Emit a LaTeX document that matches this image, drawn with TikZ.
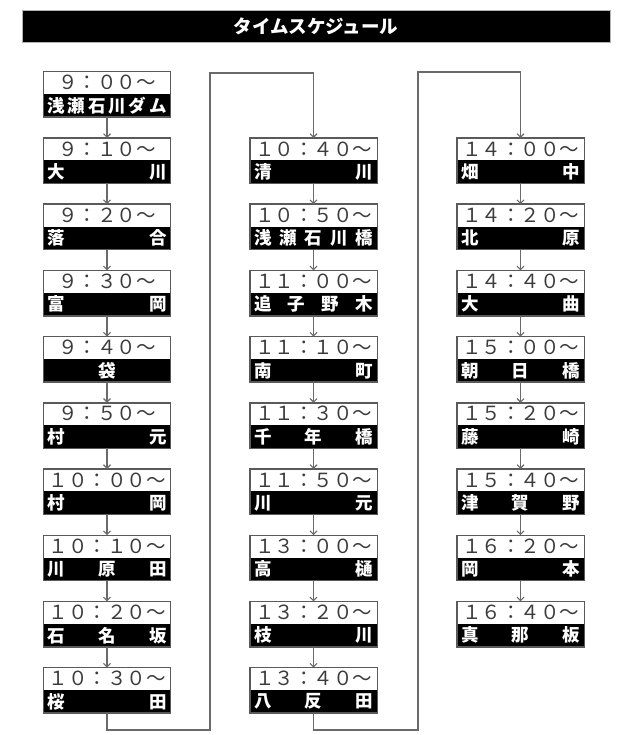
\documentclass[tikz,border=0pt]{standalone}
\usepackage{fontspec}
\newfontfamily\jp{Noto Sans CJK JP}
\usetikzlibrary{arrows.meta,calc}
\definecolor{framegray}{HTML}{5A5A5A}
\definecolor{linegray}{HTML}{6A6A6A}
\definecolor{timegray}{HTML}{3C3C3C}
\tikzset{
  boxnode/.style={minimum width=127pt,minimum height=45pt,inner sep=0pt,fill=white},
  boxline/.style={draw=framegray,line width=1.4pt},
  timetext/.style={font=\jp\fontsize{19.5}{21}\selectfont,text=timegray,inner sep=0pt},
  nametext/.style={font=\jp\bfseries\fontsize{17.5}{19}\selectfont,text=white,inner sep=0pt},
  smallarrow/.style={draw=linegray,line width=1.1pt,-{Straight Barb[length=3.5pt,width=7pt,line width=1.1pt]}},
  conn/.style={draw=linegray,line width=1.6pt,-{Straight Barb[length=3.5pt,width=7pt,line width=1.1pt]}},
}
\newcommand\schedbox[5]{%
  \node[boxnode] (#1) at (#2,#3) {};
  \fill[black] ([yshift=23pt]#1.south west) rectangle (#1.south east);
  \draw[boxline] (#1.south west) rectangle (#1.north east);
  \node[timetext] (#1t) at ([yshift=-11pt]#1.north) {#4};
  \node[nametext] (#1n) at ([yshift=11.5pt]#1.south) {\makebox[119pt]{#5}};
}
\begin{document}
\begin{tikzpicture}[x=1pt,y=-1pt]
\useasboundingbox[fill=white] (0,0) rectangle (618,735);
% title
\node[fill=black,draw=gray!60,line width=0.8pt,minimum width=588pt,minimum height=32pt,inner sep=0pt,
  font=\jp\bfseries\fontsize{18.5}{20}\selectfont,text=white] (title) at (316,26.5) {タイムスケジュール};
% column 1
\schedbox{a0}{107}{94.5}{９：００～}{浅\hfill 瀬\hfill 石\hfill 川\hfill ダ\hfill ム}
\schedbox{a1}{107}{160.7}{９：１０～}{大\hfill 川}
\schedbox{a2}{107}{226.9}{９：２０～}{落\hfill 合}
\schedbox{a3}{107}{293.1}{９：３０～}{富\hfill 岡}
\schedbox{a4}{107}{359.3}{９：４０～}{\hfill 袋\hfill}
\schedbox{a5}{107}{425.5}{９：５０～}{村\hfill 元}
\schedbox{a6}{107}{491.7}{１０：００～}{村\hfill 岡}
\schedbox{a7}{107}{557.9}{１０：１０～}{川\hfill 原\hfill 田}
\schedbox{a8}{107}{624.1}{１０：２０～}{石\hfill 名\hfill 坂}
\schedbox{a9}{107}{690.3}{１０：３０～}{桜\hfill 田}
% column 2
\schedbox{b1}{313.5}{160.7}{１０：４０～}{清\hfill 川}
\schedbox{b2}{313.5}{226.9}{１０：５０～}{浅\hfill 瀬\hfill 石\hfill 川\hfill 橋}
\schedbox{b3}{313.5}{293.1}{１１：００～}{追\hfill 子\hfill 野\hfill 木}
\schedbox{b4}{313.5}{359.3}{１１：１０～}{南\hfill 町}
\schedbox{b5}{313.5}{425.5}{１１：３０～}{千\hfill 年\hfill 橋}
\schedbox{b6}{313.5}{491.7}{１１：５０～}{川\hfill 元}
\schedbox{b7}{313.5}{557.9}{１３：００～}{高\hfill 樋}
\schedbox{b8}{313.5}{624.1}{１３：２０～}{枝\hfill 川}
\schedbox{b9}{313.5}{690.3}{１３：４０～}{八\hfill 反\hfill 田}
% column 3
\schedbox{c1}{520.5}{160.7}{１４：００～}{畑\hfill 中}
\schedbox{c2}{520.5}{226.9}{１４：２０～}{北\hfill 原}
\schedbox{c3}{520.5}{293.1}{１４：４０～}{大\hfill 曲}
\schedbox{c4}{520.5}{359.3}{１５：００～}{朝\hfill 日\hfill 橋}
\schedbox{c5}{520.5}{425.5}{１５：２０～}{藤\hfill 崎}
\schedbox{c6}{520.5}{491.7}{１５：４０～}{津\hfill 賀\hfill 野}
\schedbox{c7}{520.5}{557.9}{１６：２０～}{岡\hfill 本}
\schedbox{c8}{520.5}{624.1}{１６：４０～}{真\hfill 那\hfill 板}
% arrows
\foreach \p/\q in {a0/a1,a1/a2,a2/a3,a3/a4,a4/a5,a5/a6,a6/a7,a7/a8,a8/a9,
  b1/b2,b2/b3,b3/b4,b4/b5,b5/b6,b6/b7,b7/b8,b8/b9,
  c1/c2,c2/c3,c3/c4,c4/c5,c5/c6,c6/c7,c7/c8}
  \draw[smallarrow] (\p.south) -- (\q.north);
% long connectors
\draw[conn] (a9.south) |- (210,730) -- (210,73) -| (b1.north);
\draw[conn] (b9.south) |- (418,730) -- (418,72) -| (c1.north);
\end{tikzpicture}
\end{document}
